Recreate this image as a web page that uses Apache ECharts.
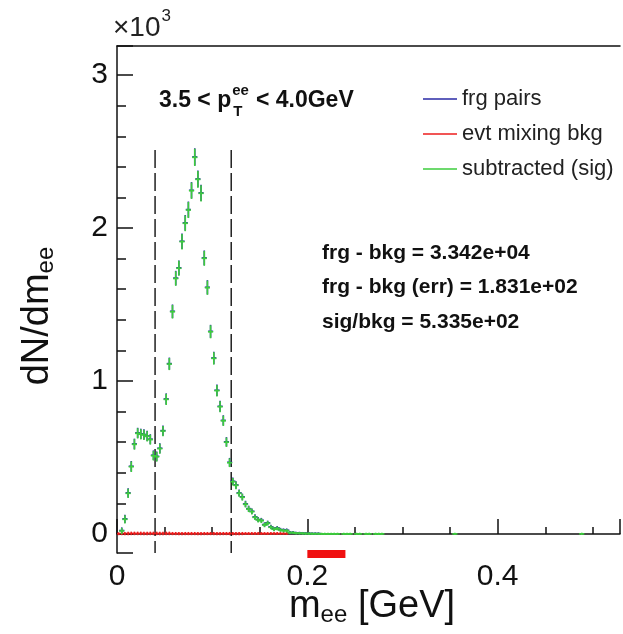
<!DOCTYPE html>
<html>
<head>
<meta charset="utf-8">
<script src="https://cdn.jsdelivr.net/npm/echarts@6/dist/echarts.min.js"></script>
<style>
html, body { margin: 0; padding: 0; background: #fff; }
#chart { width: 623px; height: 634px; }
</style>
</head>
<body>
<div id="chart"></div>
<script>
// bin centres (GeV) of the subtracted / frg histograms
const massBins = [
    0.0050, 0.0083, 0.0117, 0.0150, 0.0183, 0.0217, 0.0250, 0.0283, 0.0317, 0.0350,
    0.0383, 0.0417, 0.0450, 0.0483, 0.0517, 0.0550, 0.0583, 0.0617, 0.0650, 0.0683,
    0.0717, 0.0750, 0.0783, 0.0817, 0.0850, 0.0883, 0.0917, 0.0950, 0.0983, 0.1017,
    0.1050, 0.1083, 0.1117, 0.1150, 0.1183, 0.1217, 0.1250, 0.1283, 0.1317, 0.1350,
    0.1383, 0.1417, 0.1450, 0.1483, 0.1517, 0.1550, 0.1583, 0.1617, 0.1650, 0.1683,
    0.1717, 0.1750, 0.1783, 0.1817, 0.1850, 0.1883, 0.1917, 0.1950, 0.1983, 0.2017,
    0.2050, 0.2083, 0.2117, 0.2150, 0.2183, 0.2217, 0.2250, 0.2283, 0.2317, 0.2383,
    0.2417, 0.2450, 0.2517, 0.2550, 0.2617, 0.2650, 0.2717, 0.2750, 0.2783, 0.3550, 0.4883
]
const sigValues = [
    20, 96, 266, 440, 586, 658, 652, 648, 638, 617,
    512, 505, 558, 673, 880, 1111, 1453, 1670, 1737, 1911,
    2031, 2118, 2244, 2462, 2318, 2227, 1802, 1610, 1322, 1148,
    937, 832, 740, 600, 466, 342, 318, 266, 240, 194,
    163, 146, 109, 92, 87, 59, 70, 44, 31, 37,
    26, 22, 22, 9, 9, 5, 5, 4, 3, 3,
    2, 2, 2, 1, 1, 1, 1, 1, 1, 1,
    1, 1, 1, 1, 1, 1, 1, 1, 1, 1, 1
]
const sigErrors = [
    14, 20, 24, 28, 28, 27, 27, 27, 27, 26,
    25, 25, 26, 27, 30, 33, 38, 41, 42, 44,
    45, 46, 47, 50, 48, 47, 42, 40, 36, 34,
    31, 29, 27, 24, 22, 18, 18, 16, 15, 14,
    13, 12, 10, 10, 9, 8, 8, 7, 6, 6,
    5, 5, 5, 3, 3, 2, 2, 2, 2, 2,
    1, 1, 1, 1, 1, 1, 1, 1, 1, 1,
    1, 1, 1, 1, 1, 1, 1, 1, 1, 1, 1
]
// frg pairs, mostly hidden under the subtracted points (first 63 bins)
const frgValues = [
    23, 99, 269, 443, 589, 661, 655, 651, 641, 620,
    515, 508, 561, 676, 883, 1114, 1456, 1673, 1740, 1914,
    2034, 2121, 2247, 2465, 2321, 2230, 1805, 1613, 1325, 1151,
    940, 835, 743, 603, 469, 345, 321, 269, 243, 197,
    166, 149, 112, 95, 90, 62, 73, 47, 34, 40,
    29, 25, 25, 10, 10, 6, 6, 5, 4, 4,
    3, 3, 3
]
// event mixing background
const bkgBins = [
    0.0017, 0.0050, 0.0083, 0.0117, 0.0150, 0.0183, 0.0217, 0.0250, 0.0283, 0.0317,
    0.0350, 0.0383, 0.0417, 0.0450, 0.0483, 0.0517, 0.0550, 0.0583, 0.0617, 0.0650,
    0.0683, 0.0717, 0.0750, 0.0783, 0.0817, 0.0850, 0.0883, 0.0917, 0.0950, 0.0983,
    0.1017, 0.1050, 0.1083, 0.1117, 0.1150, 0.1183, 0.1217, 0.1250, 0.1283, 0.1317,
    0.1350, 0.1383, 0.1417, 0.1450, 0.1483, 0.1517, 0.1550, 0.1583, 0.1617, 0.1650,
    0.1683, 0.1717, 0.1750, 0.1783
]
const bkgValues = [
    2, 3, 3, 4, 4, 4, 4, 4, 4, 4,
    4, 4, 4, 4, 4, 4, 4, 3, 3, 3,
    3, 3, 3, 3, 3, 3, 3, 3, 3, 3,
    3, 3, 3, 3, 3, 3, 3, 3, 3, 3,
    3, 3, 3, 3, 3, 3, 3, 3, 3, 3,
    3, 3, 3, 3
]
const bkgErrors = [
    3, 4, 4, 5, 5, 5, 5, 5, 5, 5,
    5, 5, 5, 5, 5, 5, 5, 4, 4, 4,
    4, 4, 4, 4, 4, 4, 4, 4, 4, 4,
    4, 4, 4, 4, 4, 4, 4, 4, 4, 4,
    3, 3, 3, 3, 3, 3, 3, 3, 3, 3,
    3, 3, 3, 3
]
const cutLines = [0.04, 0.12]
const cutTop = 2510
const fitRange = [0.2, 0.24]
const binHalfWidth = 0.00167

const legendNames = ['frg pairs', 'evt mixing bkg', 'subtracted (sig)']
const statLines = ['frg - bkg = 3.342e+04', 'frg - bkg (err) = 1.831e+02', 'sig/bkg = 5.335e+02']

const fontFamily = '"Liberation Sans", Arial, Helvetica, sans-serif'
const colors = { frg: '#2a2aa6', bkg: '#ec1c1c', sig: '#3ccc3c' }

const measureCtx = document.createElement('canvas').getContext('2d')
function textWidth(text, size, weight) {
    measureCtx.font = `${weight || 'normal'} ${size}px ${fontFamily}`
    return measureCtx.measureText(text).width
}

function crossRenderer(color, extra) {
    return function (params, api) {
        const x = api.value(0)
        const y = api.value(1)
        const err = api.value(2)
        const left = api.coord([x - binHalfWidth, y])
        const right = api.coord([x + binHalfWidth, y])
        const top = api.coord([x, y + err])
        const bottom = api.coord([x, y - err])
        const style = { stroke: color, lineWidth: 1.6 }
        return {
            type: 'group',
            children: [
                { type: 'line', shape: { x1: left[0] - extra, y1: left[1], x2: right[0] + extra, y2: right[1] }, style },
                { type: 'line', shape: { x1: top[0], y1: top[1] - 1, x2: bottom[0], y2: bottom[1] + 1 }, style }
            ]
        }
    }
}

const sigData = massBins.map((x, i) => [x, sigValues[i], sigErrors[i]])
const frgData = frgValues.map((v, i) => [massBins[i], v, sigErrors[i]])
const bkgData = bkgBins.map((x, i) => [x, bkgValues[i], bkgErrors[i]])

const chart = echarts.init(document.getElementById('chart'), null, { renderer: 'canvas' })

const yMin = -124
const yMax = 3190

// pT label pieces
const ptLeft = 159
const ptY = 101
const ptPart1 = '3.5 < p'
const ptPart2 = '< 4.0GeV'
const w1 = textWidth(ptPart1, 23, 'bold')
const wSup = Math.max(textWidth('ee', 15, 'bold'), textWidth('T', 15, 'bold'))
const w10 = textWidth('\u00d710', 28)

const graphics = [
    { type: 'text', left: 113, top: 14, style: { text: '\u00d710', font: `28px ${fontFamily}`, fill: '#222' } },
    { type: 'text', left: 113 + w10 + 1, top: 8, style: { text: '3', font: `17px ${fontFamily}`, fill: '#222' } },
    { type: 'text', x: ptLeft, y: ptY, style: { text: ptPart1, font: `bold 23px ${fontFamily}`, fill: '#111', verticalAlign: 'middle' } },
    { type: 'text', x: ptLeft + w1 + 1, y: ptY - 10, style: { text: 'ee', font: `bold 15px ${fontFamily}`, fill: '#111', verticalAlign: 'middle' } },
    { type: 'text', x: ptLeft + w1 + 2, y: ptY + 11, style: { text: 'T', font: `bold 15px ${fontFamily}`, fill: '#111', verticalAlign: 'middle' } },
    { type: 'text', x: ptLeft + w1 + wSup + 8, y: ptY, style: { text: ptPart2, font: `bold 23px ${fontFamily}`, fill: '#111', verticalAlign: 'middle' } },
    {
        type: 'text', x: 372, y: 607,
        style: {
            text: '{m|m}{s|ee}{m| [GeV]}', align: 'center', verticalAlign: 'middle',
            rich: {
                m: { fontSize: 38, lineHeight: 40, fontFamily, fill: '#111' },
                s: { fontSize: 24, lineHeight: 14, fontFamily, fill: '#111', verticalAlign: 'bottom' }
            }
        }
    },
    {
        type: 'text', x: 38, y: 316, rotation: Math.PI / 2,
        style: {
            text: '{m|dN/dm}{s|ee}', align: 'center', verticalAlign: 'middle',
            rich: {
                m: { fontSize: 38, lineHeight: 40, fontFamily, fill: '#111' },
                s: { fontSize: 24, lineHeight: 14, fontFamily, fill: '#111', verticalAlign: 'bottom' }
            }
        }
    }
]
statLines.forEach((line, i) => {
    graphics.push({
        type: 'text', x: 322, y: 253 + i * 34.5,
        style: { text: line, font: `bold 21px ${fontFamily}`, fill: '#111', verticalAlign: 'middle' }
    })
})

const axisLineStyle = { color: '#111', width: 1.5 }

chart.setOption({
    animation: false,
    backgroundColor: '#fff',
    grid: { left: 117, top: 46, width: 510, height: 507 },
    legend: {
        data: legendNames,
        orient: 'vertical',
        left: 423,
        top: 88,
        padding: 0,
        icon: 'rect',
        itemWidth: 34,
        itemHeight: 1.5,
        itemGap: 13,
        selectedMode: false,
        textStyle: { fontSize: 22, color: '#222', fontFamily }
    },
    xAxis: [
        {
            type: 'value',
            min: 0,
            max: 0.5285,
            interval: 0.2,
            axisLine: { lineStyle: axisLineStyle },
            axisTick: { inside: true, length: 15, lineStyle: axisLineStyle },
            minorTick: { show: true, splitNumber: 4, length: 7, lineStyle: axisLineStyle },
            splitLine: { show: false },
            axisLabel: {
                fontSize: 30, color: '#111', fontFamily, margin: 9,
                formatter: v => (Math.abs(v / 0.2 - Math.round(v / 0.2)) < 1e-6 ? String(Math.round(v * 10) / 10) : '')
            }
        },
        {
            type: 'value',
            position: 'top',
            min: 0,
            max: 0.5285,
            axisLine: { show: true, lineStyle: axisLineStyle },
            axisTick: { show: false },
            axisLabel: { show: false },
            splitLine: { show: false }
        }
    ],
    yAxis: {
        type: 'value',
        min: yMin,
        max: yMax,
        minInterval: 1000,
        maxInterval: 1000,
        axisLine: { show: true, lineStyle: axisLineStyle },
        axisTick: { inside: true, length: 16, lineStyle: axisLineStyle },
        minorTick: { show: true, splitNumber: 5, length: 9, lineStyle: axisLineStyle },
        splitLine: { show: false },
        axisLabel: {
            fontSize: 30, color: '#111', fontFamily, margin: 9,
            formatter: v => (v % 1000 === 0 ? String(v / 1000) : '')
        }
    },
    graphic: graphics,
    series: [
        {
            name: 'cuts',
            type: 'custom',
            data: cutLines.map(x => [x, cutTop]),
            renderItem: (params, api) => {
                const top = api.coord([api.value(0), api.value(1)])
                const bottom = api.coord([api.value(0), yMin])
                return {
                    type: 'line',
                    shape: { x1: top[0], y1: top[1], x2: bottom[0], y2: bottom[1] },
                    style: { stroke: '#111', lineWidth: 1.4, lineDash: [18, 5] }
                }
            },
            z: 1
        },
        {
            name: legendNames[0],
            type: 'custom',
            itemStyle: { color: colors.frg },
            data: frgData,
            renderItem: crossRenderer(colors.frg, 1),
            z: 2
        },
        {
            name: legendNames[1],
            type: 'custom',
            itemStyle: { color: colors.bkg },
            data: bkgData,
            renderItem: crossRenderer(colors.bkg, 0),
            z: 3
        },
        {
            name: legendNames[2],
            type: 'custom',
            itemStyle: { color: colors.sig },
            data: sigData,
            renderItem: crossRenderer(colors.sig, 1),
            z: 4
        },
        {
            name: 'fit range',
            type: 'custom',
            data: [fitRange],
            clip: false,
            renderItem: (params, api) => {
                const a = api.coord([api.value(0), yMin])
                const b = api.coord([api.value(1), yMin])
                return {
                    type: 'rect',
                    shape: { x: a[0], y: a[1] - 3, width: b[0] - a[0], height: 8 },
                    style: { fill: '#f01010' }
                }
            },
            z: 5
        }
    ]
})
</script>
</body>
</html>
